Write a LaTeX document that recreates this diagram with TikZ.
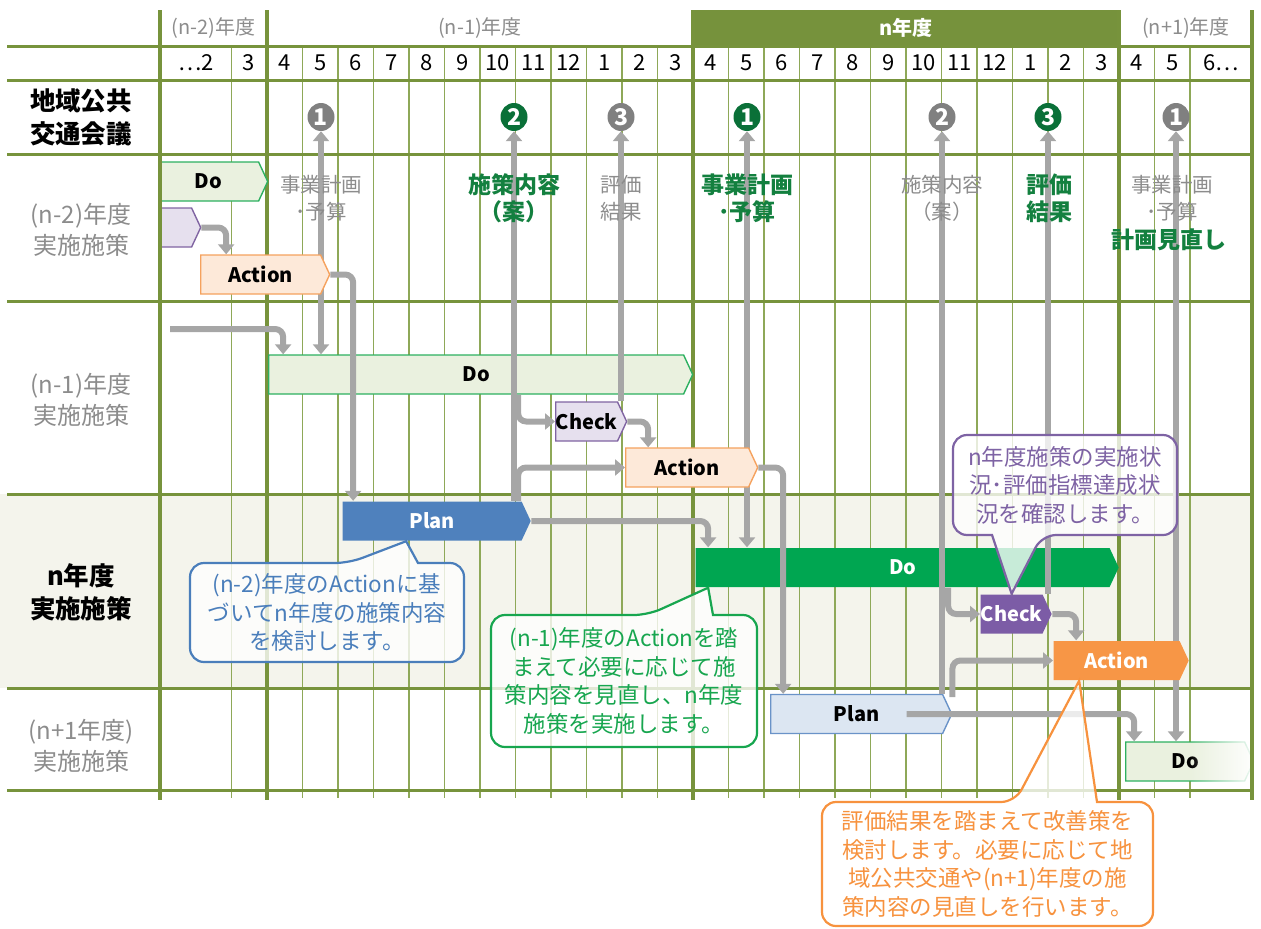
\documentclass[tikz,border=0pt]{standalone}
\usepackage{fontspec}
\setmainfont{Noto Sans CJK JP}
\usetikzlibrary{arrows.meta,calc,shapes.geometric,shapes.symbols,fadings}
\definecolor{Grid}{HTML}{77933C}
\definecolor{GridThin}{HTML}{8EA858}
\definecolor{Band}{HTML}{76923C}
\definecolor{RowTint}{HTML}{F4F4EC}
\definecolor{LabelGray}{HTML}{8C8C8C}
\definecolor{Flow}{HTML}{A6A6A6}
\definecolor{BallGray}{HTML}{808080}
\definecolor{BallGreen}{HTML}{0A7038}
\definecolor{TextGreen}{HTML}{13803F}
\definecolor{DoFill}{HTML}{EAF1DF}
\definecolor{DoLine}{HTML}{2DB060}
\definecolor{DoSolid}{HTML}{00A651}
\definecolor{ChkFill}{HTML}{E6E0EE}
\definecolor{ChkLine}{HTML}{8064A2}
\definecolor{ChkSolid}{HTML}{7C5CA6}
\definecolor{ActFill}{HTML}{FDE9D9}
\definecolor{ActLine}{HTML}{F5A25E}
\definecolor{ActSolid}{HTML}{F79646}
\definecolor{PlanFill}{HTML}{DCE6F2}
\definecolor{PlanLine}{HTML}{6A93C8}
\definecolor{PlanSolid}{HTML}{4F81BD}
\definecolor{NoteBlue}{HTML}{4A7EBB}
\definecolor{NoteGreen}{HTML}{17A64F}
\definecolor{NotePurple}{HTML}{7E63A4}
\definecolor{NoteOrange}{HTML}{F7923E}
\newcommand{\yearfont}{\fontsize{20}{24}\selectfont}
\newcommand{\monthfont}{\fontsize{22}{24}\selectfont}
\newcommand{\rowfont}{\fontsize{24}{31}\selectfont}
\newcommand{\headfont}{\fontsize{25.5}{33}\selectfont\bfseries}
\newcommand{\boxfont}{\fontsize{20}{22}\selectfont\bfseries}
\newcommand{\ballfont}{\fontsize{23}{23}\selectfont\bfseries}
\newcommand{\talkfont}{\fontsize{20.5}{27}\selectfont}
\newcommand{\talkhifont}{\fontsize{23}{27}\selectfont\bfseries}
\newcommand{\notefont}{\fontsize{22.5}{28.5}\selectfont}
\tikzset{
  gridthin/.style={draw=GridThin, line width=1.5pt},
  gridthick/.style={draw=Grid, line width=4pt},
  gridrow/.style={draw=Grid, line width=3pt},
  yearlbl/.style={font=\yearfont, text=LabelGray, inner sep=0pt},
  yearcur/.style={font=\yearfont\bfseries, text=white, inner sep=0pt},
  monthlbl/.style={font=\monthfont, inner sep=0pt},
  rowlbl/.style={align=center, font=\rowfont, text=LabelGray, inner sep=0pt},
  rowhead/.style={align=center, font=\headfont, inner sep=0pt},
  phase/.style={
    signal, signal to=east, signal pointer angle=130,
    minimum height=39pt, inner sep=0pt, line width=1.4pt, font=\boxfont
  },
  dolite/.style={phase, fill=DoFill, draw=DoLine},
  dosolid/.style={phase, fill=DoSolid, text=white},
  chklite/.style={phase, fill=ChkFill, draw=ChkLine},
  chksolid/.style={phase, fill=ChkSolid, text=white},
  actlite/.style={phase, fill=ActFill, draw=ActLine},
  actsolid/.style={phase, fill=ActSolid, text=white},
  planlite/.style={phase, fill=PlanFill, draw=PlanLine},
  plansolid/.style={phase, fill=PlanSolid, text=white},
  ball/.style={ellipse, minimum width=27pt, minimum height=28pt, inner sep=0pt,
    text=white, font=\ballfont},
  flow/.style={draw=Flow, line width=6pt, rounded corners=8pt,
    -{Triangle[width=16pt,length=10pt]}},
  flowboth/.style={draw=Flow, line width=6pt,
    {Triangle[width=16pt,length=10pt]}-{Triangle[width=16pt,length=10pt]}},
  talk/.style={align=center, font=\talkfont, text=LabelGray, inner sep=0pt},
  talkhi/.style={align=center, font=\talkhifont, text=TextGreen, inner sep=0pt},
  note/.style={line width=2.2pt, fill=white, fill opacity=0.78},
  notetext/.style={align=center, font=\notefont, inner sep=0pt}
}

\begin{document}
\begin{tikzpicture}[x=1pt,y=-1pt]
  \useasboundingbox (0,0) rectangle (1261,929);
  % grid
  \fill[RowTint] (0,494) rectangle (1252,688);
  \fill[Band] (693,10) rectangle (1119,46);
  \foreach \k in {1,...,26}
    \draw[gridthin] ({267+35.5*\k},46) -- ({267+35.5*\k},798);
  \draw[gridthin] (231.5,46) -- (231.5,798);
  \foreach \y in {46,80,154,301,494,688,790}
    \draw[gridrow] (7,\y) -- (1252,\y);
  \foreach \x in {160,267,693,1119,1252}
    \draw[gridthick] (\x,10) -- (\x,800);

  % header
  \node[yearlbl] (yr2) at (213.5,28) {(n-2)年度};
  \node[yearlbl] (yr1) at (480,28) {(n-1)年度};
  \node[yearcur] (yr0) at (906,28) {n年度};
  \node[yearlbl] (yrx) at (1186,28) {(n+1)年度};
  \node[monthlbl] (mfirst) at (196,63) {…2};
  \node[monthlbl] (msecond) at (249,63) {3};
  \foreach \m [count=\i from 0] in {4,5,6,7,8,9,10,11,12,1,2,3,4,5,6,7,8,9,10,11,12,1,2,3,4,5}
    \node[monthlbl] (m\i) at ({267+35.5*(\i+0.5)},63) {\m};
  \node[monthlbl] (mlast) at (1221,63) {6…};

  \node[rowhead] (council) at (81,117) {地域公共\\交通会議};
  \node[rowlbl] (rowprev2) at (81,230) {(n-2)年度\\実施施策};
  \node[rowlbl] (rowprev1) at (81,400) {(n-1)年度\\実施施策};
  \node[rowhead] (rowcur) at (81,592) {n年度\\実施施策};
  \node[rowlbl] (rownext) at (81,746) {(n+1年度)\\実施施策};

  % council meetings
  \node[ball, fill=BallGray] (c1a) at (321,117) {1};
  \node[ball, fill=BallGreen] (c2a) at (514,117) {2};
  \node[ball, fill=BallGray] (c3a) at (621,117) {3};
  \node[ball, fill=BallGreen] (c1b) at (747,117) {1};
  \node[ball, fill=BallGray] (c2b) at (942,117) {2};
  \node[ball, fill=BallGreen] (c3b) at (1048,117) {3};
  \node[ball, fill=BallGray] (c1c) at (1176,117) {1};

  % phases
  \node[dolite, minimum width=109pt, anchor=west] (do2) at (158,181.5) {Do};
  \node[chklite, minimum width=42pt, anchor=west] (chk2) at (158,227.5) {};
  \node[dolite, minimum width=424pt, anchor=west] (do1) at (268,374.5) {Do};
  \node[chklite, minimum width=66pt, anchor=west] (chk1) at (555,421.5) {Check};
  \node[plansolid, minimum width=188pt, anchor=west] (plan0) at (342,521) {Plan};
  \node[dosolid, minimum width=423pt, anchor=west] (do0) at (695,567.5) {Do};
  \node[chksolid, minimum width=68pt, anchor=west] (chk0) at (980,614) {Check};
  \node[planlite, minimum width=181pt, anchor=west] (planx) at (770,714) {Plan};
  \node[dolite, minimum width=128pt, anchor=west] (dox) at (1125,761.5) {Do};
  \fill[white, path fading=west] (1190,738) rectangle (1256,786);
  \draw[gridthick] (160,10) -- (160,800);
  \draw[gridthick] (1252,10) -- (1252,800);

  \draw[flowboth] (c1a.south) -- (c1a.south |- do1.north);
  \draw[flowboth] (c1b.south) -- (c1b.south |- do0.north);
  \draw[flowboth] (c1c.south) -- (c1c.south |- dox.north);

  \node[actlite, minimum width=129pt, anchor=west] (act2) at (200,274.5) {Action};
  \node[actlite, minimum width=132pt, anchor=west] (act1) at (625,467.5) {Action};
  \node[actsolid, minimum width=135pt, anchor=west] (act0) at (1053,660.5) {Action};

  % flows
  \coordinate (fromleft) at (170,329);
  \draw[flow] (chk2.east) -| ($(act2.north)+(-34.5,0)$);
  \draw[flow] (fromleft) -| ($(do1.north)+(-193,0)$);
  \draw[flow] (act2.east) -| ($(plan0.north)+(-79,0)$);
  \draw[flow] ($(do1.south)+(42,0)$) |- (chk1.west);
  \draw[flow] ($(plan0.north)+(86,0)$) |- (act1.west);
  \draw[flow] (chk1.east) -| ($(act1.north)+(-39,0)$);
  \draw[flow] (act1.east) -| ($(planx.north)+(-73.5,0)$);
  \draw[flow] (plan0.east) -| ($(do0.north)+(-194.5,0)$);
  \draw[flow] ($(do0.south)+(45.5,0)$) |- (chk0.west);
  \draw[flow] (chk0.east) -| ($(act0.north)+(-40.5,0)$);
  \draw[flow] ($(planx.east)+(0,-17)$) |- (act0.west);
  \draw[flow] ($(planx.center)+(50,0)$) -| ($(dox.north)+(-51,0)$);
  \draw[flow] (c2a.south |- plan0.north) -- (c2a.south);
  \draw[flow] (c3a.south |- chk1.north) -- (c3a.south);
  \draw[flow] (c2b.south |- planx.north) -- (c2b.south);
  \draw[flow] (c3b.south |- chk0.north) -- (c3b.south);

  % council outputs
  \node[talk] (budgetA) at (321,198) {事業計画\\･予算};
  \node[talkhi] (draftA) at (514,198) {施策内容\\（案）};
  \node[talk] (evalA) at (621,198) {評価\\結果};
  \node[talkhi] (budgetB) at (747,198) {事業計画\\･予算};
  \node[talk] (draftB) at (942,198) {施策内容\\（案）};
  \node[talkhi] (evalB) at (1049,198) {評価\\結果};
  \node[talk] (budgetC) at (1172,198) {事業計画\\･予算};
  \node[talkhi] (revise) at (1169,240) {計画見直し};

  % notes
  \draw[note, draw=NoteBlue] (190,612) [rounded corners=14pt] -- (190,563) -- (349,563)
    [sharp corners] -- ($(plan0.south)+(-26,0)$) -- (418,563)
    [rounded corners=14pt] -- (464,563) -- (464,662) -- (190,662) -- cycle;
  \node[notetext, text=NoteBlue] (noteplan) at (327,612.5)
    {(n-2)年度のActionに基\\づいてn年度の施策内容\\を検討します。};

  \draw[note, draw=NoteGreen] (491,681) [rounded corners=14pt] -- (491,615) -- (648,615)
    [sharp corners] -- ($(do0.south)+(-194.5,0)$) -- (713,615)
    [rounded corners=14pt] -- (757,615) -- (757,747) -- (491,747) -- cycle;
  \node[notetext, text=NoteGreen] (notedo) at (624,681)
    {(n-1)年度のActionを踏\\まえて必要に応じて施\\策内容を見直し、n年度\\施策を実施します。};

  \draw[note, draw=NotePurple] (953,485) [rounded corners=14pt] -- (953,435) -- (1177,435)
    -- (1177,535) -- (1042,535) [sharp corners] -- (chk0.north) -- (992,535)
    [rounded corners=14pt] -- (953,535) -- cycle;
  \node[notetext, text=NotePurple] (notecheck) at (1065,485)
    {n年度施策の実施状\\況･評価指標達成状\\況を確認します。};

  \draw[note, draw=NoteOrange] (822,865) [rounded corners=14pt] -- (822,802) -- (1015,802)
    [sharp corners] -- ($(act0.south)+(-37.5,0)$) -- (1097,802)
    [rounded corners=14pt] -- (1153,802) -- (1153,926) -- (822,926) -- cycle;
  \node[notetext, text=NoteOrange] (noteact) at (987.5,864)
    {評価結果を踏まえて改善策を\\検討します。必要に応じて地\\域公共交通や(n+1)年度の施\\策内容の見直しを行います。};
\end{tikzpicture}
\end{document}
